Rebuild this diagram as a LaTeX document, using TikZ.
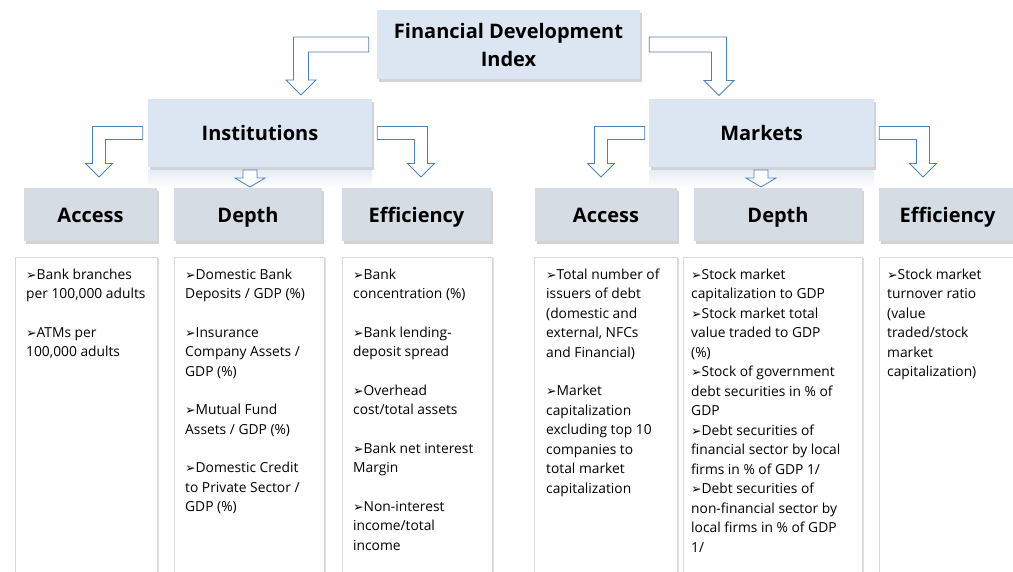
\documentclass[tikz,border=0pt]{standalone}
\usepackage{fontspec}
\setmainfont{Open Sans}
\newfontfamily\bulletfont{DejaVu Sans}
\usetikzlibrary{shadows,calc}

\definecolor{fdiblue}{HTML}{DCE6F2}
\definecolor{catgrey}{HTML}{D6DCE4}
\definecolor{arrowblue}{HTML}{4F81BD}

\newcommand\itm{{\bulletfont\fontsize{12.5}{12}\selectfont ➢}}
% bent block arrow: source, tip, side (-1 left, 1 right), half band, half head
\newcommand\bentarrow[5]{%
 \draw[blockarrow] ($(#1)+(0,-#4)$) -- ($(#2|-#1)+({(#3)*#4},-#4)$)
   -- ($(#2)+({(#3)*#4},-#5)$) -- ($(#2)+({(#3)*#5},-#5)$) -- (#2)
   -- ($(#2)+({-(#3)*#5},-#5)$) -- ($(#2)+({-(#3)*#4},-#5)$)
   -- ($(#2|-#1)+({-(#3)*#4},#4)$) -- ($(#1)+(0,#4)$) -- cycle;}
\newcommand\blockdown[1]{%
 \draw[blockarrow] ($(#1)+(-7,-17)$) -- ($(#1)+(7,-17)$) -- ($(#1)+(7,-9)$)
   -- ($(#1)+(15,-9)$) -- (#1) -- ($(#1)+(-15,-9)$) -- ($(#1)+(-7,-9)$) -- cycle;}

\begin{document}
\begin{tikzpicture}[x=1pt, y=-1pt,
  hdr/.style={fill=fdiblue, minimum height=68pt, inner sep=0pt, align=center,
    font=\fontsize{20}{28}\selectfont\bfseries,
    drop shadow={shadow xshift=2pt, shadow yshift=-2.5pt, opacity=0.35}},
  cat/.style={fill=catgrey, minimum height=53pt, inner sep=0pt,
    text height=18.5pt, text depth=2.5pt,
    font=\fontsize{20}{28}\selectfont\bfseries,
    drop shadow={shadow xshift=2pt, shadow yshift=-2.5pt, opacity=0.35}},
  listbox/.style={fill=white, draw=gray!30, line width=0.6pt, minimum height=340pt, anchor=north west,
    drop shadow={shadow xshift=2pt, shadow yshift=-1pt, opacity=0.25}},
  listtext/.style={anchor=north west, inner sep=0pt, align=left,
    font=\fontsize{13.8}{19.5}\selectfont},
  blockarrow/.style={draw=arrowblue, fill=white, line width=0.8pt, line join=miter}]

\useasboundingbox (0,0) rectangle (1013,571);
\clip (0,0) rectangle (1013,571);

% top levels
\node[hdr, minimum width=263pt, minimum height=69pt] (fdi) at (508.5,44.5) {Financial Development\\Index};
\node[hdr, minimum width=224pt] (inst) at (260,133) {Institutions};
\node[hdr, minimum width=225pt] (mkt) at (761.5,133) {Markets};

\shade[top color=fdiblue!70, bottom color=white] (148,170) rectangle (372,188);
\shade[top color=fdiblue!70, bottom color=white] (649,170) rectangle (874,188);

% sub-indices
\node[cat, minimum width=133pt] (iacc) at (90.5,214.5) {Access};
\node[cat, minimum width=148pt] (idep) at (248,214.5) {Depth};
\node[cat, minimum width=149pt] (ieff) at (416.5,214.5) {Efficiency};
\node[cat, minimum width=142pt] (macc) at (606,214.5) {Access};
\node[cat, minimum width=168pt] (mdep) at (778,214.5) {Depth};
\node[cat, minimum width=137pt] (meff) at (947.5,214.5) {Efficiency};

% arrows
\coordinate (s1) at ($(fdi.west)+(-8,0)$);  \coordinate (t1) at (301,95);
\coordinate (s2) at ($(fdi.east)+(9,0)$);   \coordinate (t2) at (719,95.5);
\coordinate (s3) at ($(inst.west)+(-5,0)$); \coordinate (t3) at (99,177);
\coordinate (s4) at ($(inst.east)+(5,0)$);  \coordinate (t4) at (421,177);
\coordinate (s5) at ($(mkt.west)+(-4,0)$);  \coordinate (t5) at (601,177);
\coordinate (s6) at ($(mkt.east)+(5,0)$);   \coordinate (t6) at (923,177);
\coordinate (d1) at (250,187);
\coordinate (d2) at (761,187);

\bentarrow{s1}{t1}{-1}{7.5}{15}
\bentarrow{s2}{t2}{1}{7.5}{15}
\bentarrow{s3}{t3}{-1}{6.5}{13.5}
\bentarrow{s4}{t4}{1}{6.5}{13.5}
\bentarrow{s5}{t5}{-1}{6.5}{13.5}
\bentarrow{s6}{t6}{1}{6.5}{13.5}
\blockdown{d1}
\blockdown{d2}

% indicator lists
\node[listbox, minimum width=142pt] (l1) at (15,257) {};
\node[listbox, minimum width=150pt] (l2) at (174,257) {};
\node[listbox, minimum width=150pt] (l3) at (342,257) {};
\node[listbox, minimum width=143pt] (l4) at (534,257) {};
\node[listbox, minimum width=179pt] (l5) at (683,257) {};
\node[listbox, minimum width=140pt] (l6) at (879,257) {};

\node[listtext] (l1t) at ($(l1.north west)+(11,11.5)$) {\itm Bank branches\\per 100,000 adults\\[19pt]
  \itm ATMs per\\100,000 adults};
\node[listtext] (l2t) at ($(l2.north west)+(11,11.5)$) {\itm Domestic Bank\\Deposits / GDP (\%)\\[19pt]
  \itm Insurance\\Company Assets /\\GDP (\%)\\[19pt]
  \itm Mutual Fund\\Assets / GDP (\%)\\[19pt]
  \itm Domestic Credit\\to Private Sector /\\GDP (\%)};
\node[listtext] (l3t) at ($(l3.north west)+(11,11.5)$) {\itm Bank\\concentration (\%)\\[19pt]
  \itm Bank lending-\\deposit spread\\[19pt]
  \itm Overhead\\cost/total assets\\[19pt]
  \itm Bank net interest\\Margin\\[19pt]
  \itm Non-interest\\income/total\\income};
\node[listtext] (l4t) at ($(l4.north west)+(12,11.5)$) {\itm Total number of\\issuers of debt\\(domestic and\\external, NFCs\\and Financial)\\[19pt]
  \itm Market\\capitalization\\excluding top 10\\companies to\\total market\\capitalization};
\node[listtext] (l5t) at ($(l5.north west)+(8,11.5)$) {\itm Stock market\\capitalization to GDP\\
  \itm Stock market total\\value traded to GDP\\(\%)\\
  \itm Stock of government\\debt securities in \% of\\GDP\\
  \itm Debt securities of\\financial sector by local\\firms in \% of GDP 1/\\
  \itm Debt securities of\\non-financial  sector by\\local firms in \% of GDP\\1/};
\node[listtext] (l6t) at ($(l6.north west)+(8,11.5)$) {\itm Stock market\\turnover ratio\\(value\\traded/stock\\market\\capitalization)};

\end{tikzpicture}
\end{document}
